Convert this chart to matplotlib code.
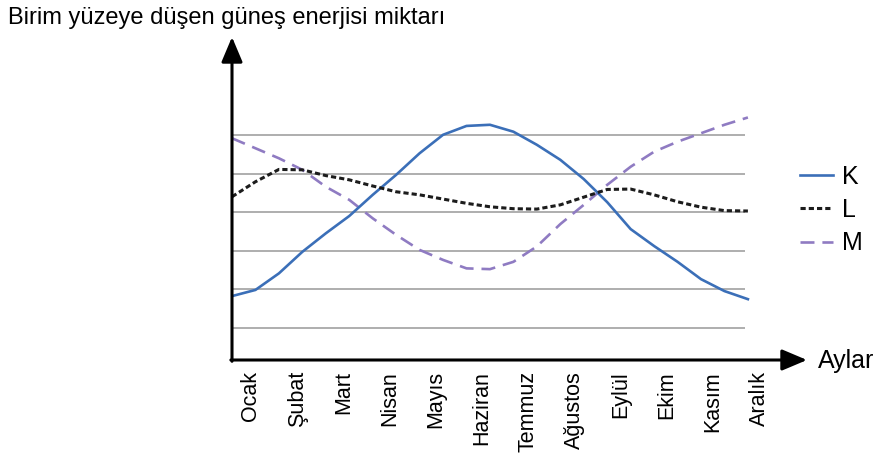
import numpy as np
import matplotlib.pyplot as plt

plt.rcParams["font.family"] = ["Liberation Sans", "DejaVu Sans"]

# Months on the x axis
months = ["Ocak", "Şubat", "Mart", "Nisan", "Mayıs", "Haziran",
          "Temmuz", "Ağustos", "Eylül", "Ekim", "Kasım", "Aralık"]

# Curves read every half month (0 = Ocak, 11 = Aralık)
t = np.arange(0, 11.01, 0.5)
k_vals = [1.82, 1.98, 2.41, 2.97, 3.45, 3.90, 4.45, 4.97, 5.53, 6.01, 6.24, 6.27,
          6.09, 5.75, 5.36, 4.86, 4.26, 3.56, 3.12, 2.71, 2.26, 1.95, 1.74]
l_vals = [4.40, 4.79, 5.11, 5.10, 4.95, 4.84, 4.68, 4.53, 4.45, 4.34, 4.23, 4.14,
          4.09, 4.08, 4.19, 4.39, 4.59, 4.60, 4.45, 4.27, 4.13, 4.04, 4.03]
m_vals = [5.92, 5.66, 5.40, 5.10, 4.66, 4.32, 3.84, 3.41, 3.02, 2.76, 2.54, 2.52,
          2.71, 3.11, 3.69, 4.19, 4.71, 5.18, 5.57, 5.83, 6.05, 6.27, 6.46]
grid_levels = [1, 2, 3, 4, 5, 6]

fig = plt.figure(figsize=(8.77, 4.70), dpi=100)
ax = fig.add_axes([232 / 877, 1 - 360 / 470, (807 - 232) / 877, (360 - 37) / 470])
ax.set_xlim(0, 12.26)
ax.set_ylim(0.16, 8.55)

# horizontal grid lines
ax.hlines(grid_levels, 0, 10.94, colors="#a8a8a8", lw=1.3, zorder=1)

ax.plot(t, k_vals, color="#3b6fb8", lw=1.9, label="K", zorder=3)
ax.plot(t, l_vals, color="#1c1c1c", lw=2.2, linestyle=(0, (1.7, 1.0)), label="L", zorder=3)
ax.plot(t, m_vals, color="#8f7bc2", lw=1.9, linestyle=(0, (5.3, 3.0)), label="M", zorder=2)

# axes with arrows
for s in ax.spines.values():
    s.set_visible(False)
arrow = dict(arrowstyle="-|>,head_length=0.9,head_width=0.38", lw=2.2, color="black",
             mutation_scale=17, shrinkA=0, shrinkB=0)
ax.annotate("", xy=(0, 1), xytext=(0, -0.004), xycoords="axes fraction", arrowprops=arrow)
ax.annotate("", xy=(1, 0), xytext=(-0.002, 0), xycoords="axes fraction", arrowprops=arrow)

# month labels sit slightly right of the curve points, as in the original
ax.set_xticks(np.linspace(0.405, 11.24, len(months)))
ax.set_xticklabels(months, rotation=90, fontsize=15.5, va="top", ha="center")
ax.tick_params(axis="x", length=0, pad=8)
ax.set_yticks([])

fig.text(8 / 877, 1 - 18 / 470, "Birim yüzeye düşen güneş enerjisi miktarı",
         fontsize=17, va="center", ha="left")
fig.text(818 / 877, 1 - 361 / 470, "Aylar", fontsize=18, va="center", ha="left")

ax.legend(loc="center left", bbox_to_anchor=(800 / 877, 1 - 210 / 470),
          bbox_transform=fig.transFigure, frameon=False, fontsize=18,
          handlelength=1.3, handletextpad=0.4, labelspacing=0.38,
          borderpad=0, borderaxespad=0)

fig.savefig("out.png", dpi=100)
